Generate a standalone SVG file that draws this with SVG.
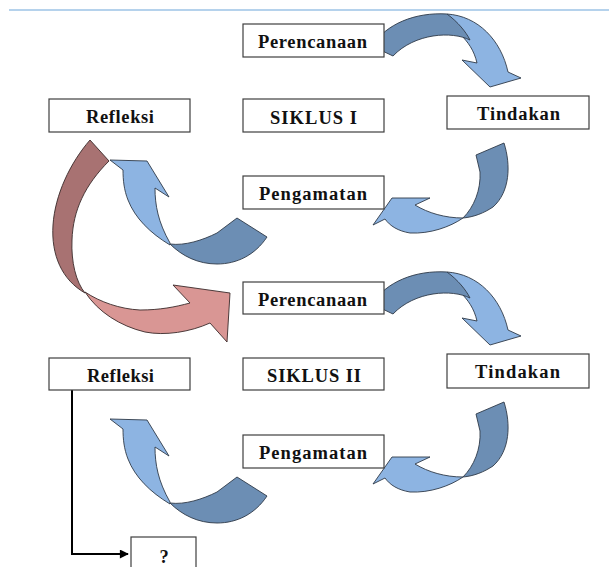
<svg xmlns="http://www.w3.org/2000/svg" width="609" height="567" viewBox="0 0 609 567">
<style>
.box{fill:#fff;stroke:#3f3f3f;stroke-width:1.2}
.lbl{font-family:"Liberation Serif","Times New Roman",serif;font-weight:bold;font-size:18.5px;fill:#111}
.dk{fill:#6c8eb4;stroke:#2f3a48;stroke-width:0.9;stroke-linejoin:round}
.lt{fill:#8db4e2;stroke:#2f3a48;stroke-width:0.9;stroke-linejoin:round}
.rdk{fill:#a87272;stroke:#3a2a2a;stroke-width:0.9;stroke-linejoin:round}
.rlt{fill:#d99694;stroke:#3a2a2a;stroke-width:0.9;stroke-linejoin:round}
.conn{fill:none;stroke:#000;stroke-width:2}
</style>
<defs>
<marker id="ah" viewBox="0 0 10 10" refX="9" refY="5" markerWidth="5" markerHeight="4.5" orient="auto" markerUnits="strokeWidth">
<path d="M0,0 L10,5 L0,10 Z" fill="#000"/>
</marker>
<g id="arrowA">
<path class="lt" d="M447,14 C478,16 501,40 508,72 L521,78 L490,87 L462,60 L477,63 C474,50 468,42 460,34 Z"/>
<path class="dk" d="M372,46 C386,24 415,12 447,14 C458,22 466,32 470,40 C452,31 415,33 393,56 Z"/>
</g>
<g id="arrowB">
<path class="dk" d="M476,155 L504,143 C511,165 510,192 493,207 C484,213 474,217 463,218 C474,207 481,190 480,172 Z"/>
<path class="lt" d="M463,218 C450,227 430,234 410,233 C398,231 390,226 385,219 L373,225 L392,198 L430,198 L415,205 C428,213 445,218 463,218 Z"/>
</g>
<g id="arrowC">
<path class="lt" d="M170,245 C150,233 135,218 128,200 C124,190 123,180 123,170 L110,160 L147,161 L169,197 L155,188 C155,205 158,222 170,243 Z"/>
<path class="dk" d="M237,218 L267,237 C255,255 237,264 217,264 C198,264 182,256 170,244 C185,246 203,240 217,233 Z"/>
</g>
</defs>

<line x1="9" y1="10" x2="609" y2="10" stroke="#9dc3e6" stroke-width="1.5"/>

<g id="arrows">
<g id="arrow-red">
<path class="rlt" d="M85,292 C100,302 120,309 140,310 C160,310 175,307 190,303 L173,285 L230,293 L227,342 L210,323 C190,332 165,336 145,332 C120,326 98,312 85,292 Z"/>
<path class="rdk" d="M90,140 C70,163 55,195 53,225 C51,255 62,280 85,293 C76,282 71,262 72,240 C73,210 85,185 109,161 Z"/>
</g>
<use href="#arrowA"/>
<use href="#arrowB"/>
<use href="#arrowC"/>
<use href="#arrowA" transform="translate(0,258)"/>
<use href="#arrowB" transform="translate(0,259)"/>
<use href="#arrowC" transform="translate(0,259)"/>
</g>

<g id="connectors">
<path class="conn" d="M72,390 V554 H128" marker-end="url(#ah)"/>
</g>

<g id="perencanaan1"><rect class="box" x="243" y="24" width="141" height="33"/><text class="lbl" x="258" y="48" textLength="109" lengthAdjust="spacing">Perencanaan</text></g>
<g id="siklus1"><rect class="box" x="243" y="99" width="141" height="33"/><text class="lbl" x="270" y="124" textLength="87" lengthAdjust="spacing">SIKLUS I</text></g>
<g id="tindakan1"><rect class="box" x="447" y="96" width="142" height="33"/><text class="lbl" x="477" y="120" textLength="83" lengthAdjust="spacing">Tindakan</text></g>
<g id="refleksi1"><rect class="box" x="49" y="99" width="141" height="33"/><text class="lbl" x="86" y="123" textLength="68" lengthAdjust="spacing">Refleksi</text></g>
<g id="pengamatan1"><rect class="box" x="243" y="176" width="141" height="33"/><text class="lbl" x="259" y="200" textLength="108" lengthAdjust="spacing">Pengamatan</text></g>

<g id="perencanaan2"><rect class="box" x="243" y="282" width="141" height="32"/><text class="lbl" x="258" y="306" textLength="109" lengthAdjust="spacing">Perencanaan</text></g>
<g id="siklus2"><rect class="box" x="243" y="358" width="141" height="32"/><text class="lbl" x="267" y="382" textLength="94" lengthAdjust="spacing">SIKLUS II</text></g>
<g id="tindakan2"><rect class="box" x="447" y="354" width="142" height="34"/><text class="lbl" x="475" y="378" textLength="85" lengthAdjust="spacing">Tindakan</text></g>
<g id="refleksi2"><rect class="box" x="49" y="358" width="141" height="32"/><text class="lbl" x="87" y="382" textLength="67" lengthAdjust="spacing">Refleksi</text></g>
<g id="pengamatan2"><rect class="box" x="243" y="435" width="141" height="33"/><text class="lbl" x="259" y="459" textLength="108" lengthAdjust="spacing">Pengamatan</text></g>

<g id="tanya"><rect class="box" x="131" y="537" width="65" height="40"/><text class="lbl" x="164" y="563" text-anchor="middle">?</text></g>
</svg>
